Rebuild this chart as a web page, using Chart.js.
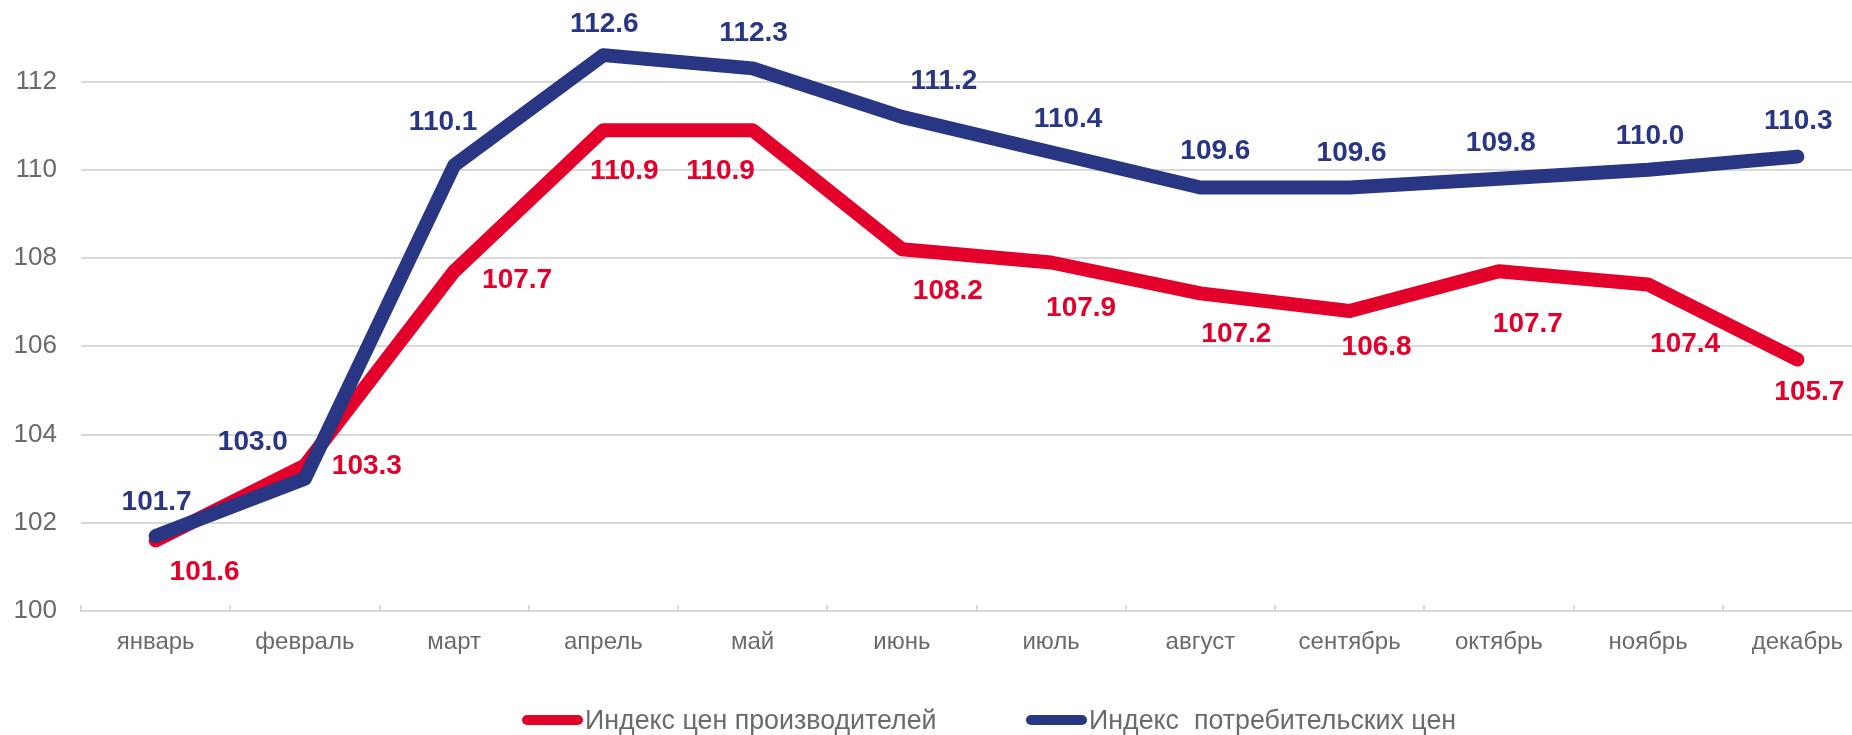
<!DOCTYPE html>
<html>
<head>
<meta charset="utf-8">
<script src="https://cdn.jsdelivr.net/npm/chart.js@4/dist/chart.umd.min.js"></script>
<style>
  html, body { margin: 0; padding: 0; background: #fff; overflow: hidden; }
  #wrap { position: relative; width: 1852px; height: 735px; overflow: hidden; }
  #legend { position: absolute; top: 701px; left: 0; height: 38px; }
  .item { position: absolute; top: 0; height: 38px; display: flex; align-items: center;
          font-family: "Liberation Sans", Arial, sans-serif; font-size: 26.8px;
          color: #6a6a6a; white-space: pre; }
  .mark { display: inline-block; width: 61px; height: 10px; border-radius: 5px; margin-right: 2px; }
</style>
</head>
<body>
<div id="wrap">
  <canvas id="myChart" width="1880" height="735"></canvas>
  <div id="legend"></div>
</div>
<script>
var months = ["январь", "февраль", "март", "апрель", "май", "июнь", "июль", "август", "сентябрь", "октябрь", "ноябрь", "декабрь"];
var producerName = "Индекс цен производителей";
var consumerName = "Индекс  потребительских цен";
var producerIndex = [101.6, 103.3, 107.7, 110.9, 110.9, 108.2, 107.9, 107.2, 106.8, 107.7, 107.4, 105.7];
var consumerIndex = [101.7, 103.0, 110.1, 112.6, 112.3, 111.2, 110.4, 109.6, 109.6, 109.8, 110.0, 110.3];

var redColor = "#e3002b";
var blueColor = "#283683";

// where each value label sits relative to its point (dx, dy)
var producerLabelShift = [[49, 32], [62, 1], [63, 9], [21, 41], [-32, 41], [46, 42], [30, 46], [36, 41], [27, 36], [29, 53], [37, 60], [12, 33]];
var consumerLabelShift = [[1, -34], [-52, -36], [-11, -43], [1, -31], [1, -35], [42, -36], [17, -33], [15, -36], [2, -34], [2, -35], [2, -34], [1, -35]];

var valueLabels = {
    id: 'valueLabels',
    afterDatasetsDraw: function (chart) {
        var ctx = chart.ctx;
        ctx.save();
        ctx.font = "bold 28px 'Liberation Sans', Arial, sans-serif";
        ctx.textAlign = "center";
        ctx.textBaseline = "middle";
        chart.data.datasets.forEach(function (ds, i) {
            var meta = chart.getDatasetMeta(i);
            meta.data.forEach(function (pt, j) {
                var s = ds.labelShift[j];
                ctx.fillStyle = ds.borderColor;
                ctx.fillText(ds.data[j].toFixed(1), pt.x + s[0], pt.y + s[1]);
            });
        });
        ctx.restore();
    }
};

var ctx = document.getElementById("myChart").getContext('2d');
var myChart = new Chart(ctx, {
    type: 'line',
    data: {
        labels: months,
        datasets: [
            {
                label: producerName,
                data: producerIndex,
                borderColor: redColor,
                backgroundColor: redColor,
                borderWidth: 14,
                borderCapStyle: 'round',
                borderJoinStyle: 'round',
                pointRadius: 0,
                fill: false,
                order: 1,
                labelShift: producerLabelShift
            },
            {
                label: consumerName,
                data: consumerIndex,
                borderColor: blueColor,
                backgroundColor: blueColor,
                borderWidth: 14,
                borderCapStyle: 'round',
                borderJoinStyle: 'round',
                pointRadius: 0,
                fill: false,
                order: 0,
                labelShift: consumerLabelShift
            }
        ]
    },
    options: {
        responsive: false,
        animation: false,
        layout: { padding: { top: 0, right: 8, left: 0, bottom: 0 } },
        plugins: {
            legend: { display: false },
            tooltip: { enabled: false }
        },
        scales: {
            x: {
                offset: true,
                grid: {
                    display: true,
                    drawOnChartArea: false,
                    offset: true,
                    color: "#d9d9d9",
                    lineWidth: 2,
                    tickLength: -6
                },
                border: { display: true, color: "#d9d9d9", width: 2 },
                ticks: {
                    color: "#6a6a6a",
                    padding: 23,
                    maxRotation: 0,
                    font: { family: "'Liberation Sans', Arial, sans-serif", size: 24 }
                },
                afterFit: function (scale) {
                    scale.height = 124;
                    scale.paddingLeft = 0;
                    scale.paddingRight = 0;
                }
            },
            y: {
                min: 100,
                max: 113.85,
                grid: { color: "#d9d9d9", lineWidth: 2, drawTicks: false },
                border: { display: false },
                ticks: {
                    stepSize: 2,
                    padding: 24,
                    color: "#6a6a6a",
                    font: { family: "'Liberation Sans', Arial, sans-serif", size: 26 }
                },
                afterBuildTicks: function (scale) {
                    scale.ticks = scale.ticks.filter(function (t) { return t.value % 2 === 0 && t.value <= 112; });
                },
                afterFit: function (scale) {
                    scale.width = 81;
                    scale.paddingTop = 0;
                    scale.paddingBottom = 0;
                }
            }
        }
    },
    plugins: [valueLabels]
});

// legend
var legendItems = [
    { name: producerName, color: redColor, left: 522 },
    { name: consumerName, color: blueColor, left: 1026 }
];
var legend = document.getElementById("legend");
legendItems.forEach(function (it) {
    var d = document.createElement("div");
    d.className = "item";
    d.style.left = it.left + "px";
    var m = document.createElement("span");
    m.className = "mark";
    m.style.background = it.color;
    d.appendChild(m);
    d.appendChild(document.createTextNode(it.name));
    legend.appendChild(d);
});
</script>
</body>
</html>
